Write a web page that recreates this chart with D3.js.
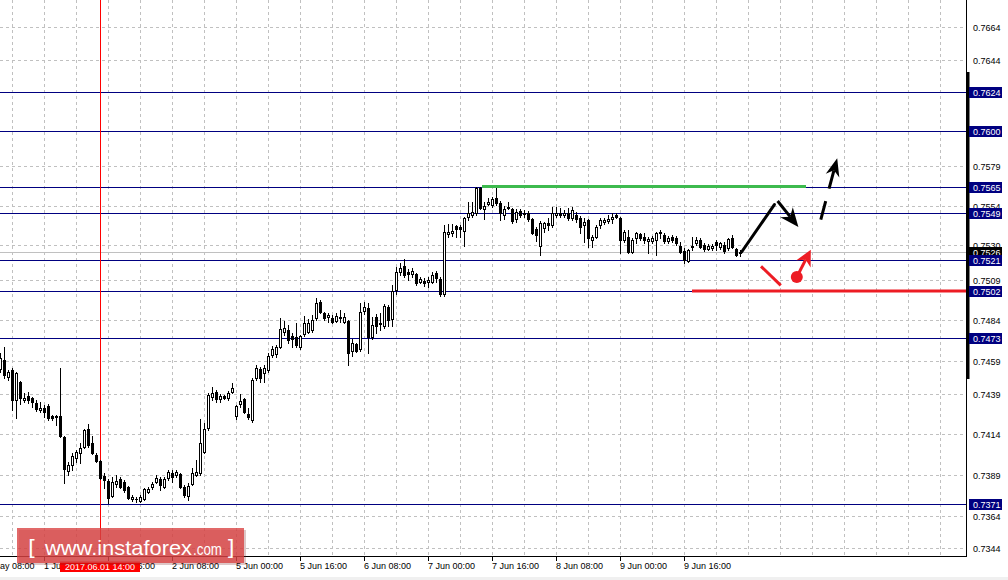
<!DOCTYPE html>
<html><head><meta charset="utf-8">
<script src="https://cdn.jsdelivr.net/npm/d3@7"></script>
<style>html,body{margin:0;padding:0;background:#fff;overflow:hidden}</style>
</head><body><svg id="c" width="1008" height="580"></svg>
<script>
// ---- data (H1 candles, prices) ----
const openP = [.74542,.74598,.74493,.74536,.74352,.74463,.74352,.74376,.74364,.74334,.74291,.74303,.74315,.74254,.74254,.74254,.74125,.73916,.73953,.73996,.74027,.74063,.74174,.74088,.74014,.73978,.73885,.73855,.73762,.73836,.73867,.73849,.73818,.73744,.73744,.73732,.73744,.73787,.73818,.73849,.73867,.73818,.73873,.73904,.73892,.73898,.73818,.73762,.73836,.73892,.73904,.74033,.74180,.74370,.74401,.74358,.74376,.74364,.74401,.74254,.74327,.74358,.74266,.74229,.74487,.74542,.74518,.74536,.74628,.74635,.74677,.74770,.74782,.74745,.74739,.74677,.74757,.74770,.74782,.74856,.74954,.74886,.74862,.74856,.74837,.74856,.74831,.74837,.74653,.74696,.74665,.74898,.74917,.74739,.74862,.74819,.74806,.74923,.74849,.75027,.75138,.75175,.75138,.75126,.75126,.75077,.75083,.75077,.75077,.75132,.75095,.75003,.75371,.75377,.75420,.75414,.75390,.75476,.75488,.75500,.75654,.75525,.75555,.75549,.75592,.75562,.75488,.75531,.75525,.75463,.75513,.75494,.75500,.75463,.75402,.75298,.75408,.75439,.75427,.75488,.75500,.75488,.75500,.75470,.75488,.75470,.75427,.75457,.75334,.75353,.75427,.75445,.75451,.75463,.75488,.75470,.75334,.75353,.75261,.75347,.75371,.75353,.75328,.75328,.75334,.75384,.75365,.75328,.75353,.75347,.75298,.75267,.75206,.75292,.75316,.75334,.75304,.75279,.75285,.75322,.75292,.75304,.75285,.75347,.75279,.75255];
const highP = [.74641,.74677,.74536,.74549,.74524,.74469,.74395,.74401,.74370,.74352,.74340,.74321,.74327,.74260,.74260,.74549,.74131,.73972,.74027,.74045,.74088,.74174,.74205,.74131,.74027,.73984,.73904,.73867,.73879,.73892,.73879,.73861,.73824,.73768,.73756,.73768,.73812,.73818,.73849,.73892,.73879,.73879,.73922,.73922,.73922,.73904,.73830,.73843,.73935,.73984,.74236,.74211,.74395,.74432,.74413,.74389,.74382,.74407,.74456,.74321,.74389,.74364,.74303,.74487,.74567,.74555,.74567,.74641,.74684,.74690,.74856,.74837,.74813,.74763,.74825,.74751,.74868,.74849,.74874,.74978,.74966,.74892,.74886,.74874,.74886,.74905,.74886,.74843,.74727,.74702,.74948,.74954,.74948,.74862,.74880,.74886,.74941,.74935,.75058,.75169,.75193,.75218,.75156,.75163,.75132,.75107,.75101,.75107,.75138,.75144,.75107,.75427,.75433,.75433,.75427,.75427,.75476,.75568,.75568,.75660,.75660,.75568,.75592,.75598,.75660,.75574,.75543,.75568,.75531,.75525,.75525,.75519,.75513,.75470,.75414,.75451,.75445,.75470,.75537,.75537,.75531,.75519,.75531,.75537,.75507,.75482,.75470,.75463,.75365,.75427,.75470,.75470,.75488,.75500,.75500,.75476,.75396,.75396,.75347,.75384,.75377,.75377,.75353,.75359,.75384,.75396,.75377,.75359,.75365,.75359,.75322,.75285,.75279,.75353,.75353,.75347,.75316,.75310,.75310,.75334,.75322,.75322,.75347,.75365,.75285,.75273];
const lowP = [.74524,.74487,.74475,.74291,.74242,.74327,.74340,.74334,.74309,.74285,.74279,.74248,.74229,.74229,.74198,.74125,.73843,.73892,.73922,.73972,.73966,.74058,.74063,.74020,.73972,.73867,.73812,.73720,.73756,.73818,.73812,.73787,.73744,.73732,.73726,.73726,.73738,.73781,.73805,.73843,.73799,.73812,.73861,.73849,.73879,.73812,.73756,.73738,.73830,.73885,.73892,.74027,.74168,.74352,.74340,.74340,.74358,.74352,.74395,.74236,.74309,.74272,.74236,.74217,.74475,.74463,.74463,.74524,.74616,.74616,.74671,.74751,.74702,.74677,.74677,.74665,.74745,.74763,.74770,.74843,.74886,.74843,.74831,.74825,.74831,.74831,.74825,.74567,.74622,.74647,.74653,.74880,.74641,.74727,.74763,.74782,.74794,.74806,.74806,.75003,.75120,.75107,.75089,.75107,.75058,.75070,.75052,.75046,.75070,.75077,.74990,.74990,.75353,.75359,.75353,.75353,.75298,.75457,.75476,.75488,.75525,.75463,.75549,.75537,.75549,.75457,.75463,.75525,.75439,.75445,.75476,.75476,.75451,.75371,.75328,.75242,.75384,.75396,.75414,.75476,.75476,.75476,.75457,.75457,.75445,.75377,.75322,.75292,.75292,.75347,.75408,.75433,.75439,.75439,.75470,.75255,.75322,.75255,.75255,.75316,.75334,.75316,.75255,.75316,.75242,.75347,.75316,.75316,.75322,.75304,.75255,.75193,.75199,.75273,.75304,.75285,.75267,.75273,.75273,.75273,.75279,.75255,.75273,.75285,.75236,.75236];
const closeP = [.74610,.74505,.74524,.74352,.74518,.74364,.74364,.74352,.74340,.74297,.74303,.74279,.74242,.74242,.74248,.74131,.73929,.73953,.74008,.74033,.74058,.74168,.74076,.74027,.73978,.73873,.73861,.73750,.73849,.73855,.73818,.73799,.73750,.73756,.73741,.73756,.73805,.73805,.73836,.73873,.73830,.73867,.73910,.73879,.73910,.73818,.73768,.73824,.73904,.73910,.74088,.74174,.74383,.74395,.74358,.74376,.74364,.74395,.74426,.74315,.74346,.74279,.74248,.74475,.74549,.74487,.74549,.74622,.74665,.74677,.74788,.74794,.74720,.74726,.74690,.74745,.74825,.74825,.74843,.74947,.74892,.74856,.74874,.74831,.74868,.74862,.74862,.74641,.74702,.74653,.74892,.74923,.74739,.74813,.74806,.74825,.74929,.74843,.75021,.75138,.75163,.75120,.75126,.75144,.75070,.75095,.75070,.75089,.75120,.75101,.75003,.75384,.75384,.75390,.75402,.75399,.75470,.75500,.75507,.75654,.75531,.75543,.75568,.75586,.75562,.75500,.75525,.75537,.75451,.75507,.75488,.75500,.75463,.75377,.75365,.75439,.75439,.75427,.75500,.75500,.75488,.75500,.75470,.75519,.75463,.75414,.75445,.75347,.75353,.75414,.75457,.75457,.75463,.75476,.75476,.75334,.75384,.75261,.75334,.75377,.75347,.75334,.75341,.75347,.75377,.75374,.75328,.75347,.75334,.75316,.75261,.75212,.75273,.75298,.75334,.75292,.75279,.75298,.75298,.75304,.75316,.75267,.75341,.75292,.75242,.75262];

const priceTicks = [0.7664,0.7644,0.7624,0.7600,0.7579,0.7554,0.7530,0.7509,0.7484,0.7459,0.7439,0.7414,0.7389,0.7364,0.7344];
const timeLabels = ["31 May 08:00","1 Jun 00:00","1 Jun 16:00","2 Jun 08:00","5 Jun 00:00","5 Jun 16:00","6 Jun 08:00","7 Jun 00:00","7 Jun 16:00","8 Jun 08:00","9 Jun 00:00","9 Jun 16:00"];
const timeLabelBars = [-5,11,27,43,59,75,91,107,123,139,155,171];
const levelLines = [0.7624,0.7600,0.75659,0.75498,0.7521,0.7502,0.7473,0.7371];
const bidPrice = 0.7526;
const markerBar = 25, markerLabel = "2017.06.01 14:00";
const resistance = {price:0.75659, from:120.5, to:201.5};
const support = {price:0.7502, from:173, to:241.5};
// analyst annotations in (bar, price)
const blackPath = [[185.4,0.75260],[193.6,0.75551]];
const blackArrow = [[194.4,0.75573],[199.6,0.75413]];
const dashedArrow = [[205.2,0.75459],[209.3,0.75836]];
const redStroke = [[190.25,0.75172],[195.2,0.75055]];
const redDot = [199.2,0.75106];
const redArrowTip = [202.7,0.75274];

// ---- scales ----
const svg = d3.select("#c");
const plotR = 966, plotB = 556;
const x = d3.scaleLinear().domain([0,1]).range([0,4]);
const y = d3.scaleLinear().domain([0.7344,0.7664]).range([548.3,27.3]);
const px = v => Math.round(x(v));
const py = v => Math.round(y(v));
const fmt = v => (Math.floor(v*10000+1e-6)/10000).toFixed(4);

svg.append("rect").attr("width",1008).attr("height",580).attr("fill","#fff");
const plot = svg.append("g");
svg.append("clipPath").attr("id","pc").append("rect").attr("x",0).attr("y",0).attr("width",plotR).attr("height",plotB);
plot.attr("clip-path","url(#pc)");

// grid
const gridBars = d3.range(3,242,8);
plot.selectAll("line.gv").data(gridBars).join("line")
  .attr("x1",d=>px(d)+0.5).attr("x2",d=>px(d)+0.5).attr("y1",0).attr("y2",plotB)
  .attr("stroke","#c0c0c0").attr("stroke-dasharray","3,3");
plot.selectAll("line.gh").data(priceTicks).join("line")
  .attr("x1",0).attr("x2",plotR).attr("y1",d=>py(d)+0.5).attr("y2",d=>py(d)+0.5)
  .attr("stroke","#c0c0c0").attr("stroke-dasharray","3,3");

// bid line
plot.append("line").attr("x1",0).attr("x2",plotR).attr("y1",py(bidPrice)+0.5).attr("y2",py(bidPrice)+0.5).attr("stroke","#c0c0c0");
// level lines
plot.selectAll("line.lv").data(levelLines).join("line")
  .attr("x1",0).attr("x2",plotR).attr("y1",d=>py(d)+0.5).attr("y2",d=>py(d)+0.5)
  .attr("stroke","#000080");
// red vertical marker
plot.append("line").attr("x1",px(markerBar)+0.5).attr("x2",px(markerBar)+0.5).attr("y1",0).attr("y2",plotB).attr("stroke","#ff0000");

// candles
const bars = d3.range(openP.length).map(i=>({i,o:openP[i],h:highP[i],l:lowP[i],c:closeP[i]}));
const cg = plot.append("g");
bars.forEach(b=>{
  const cx = px(b.i);
  const yh = py(b.h), yl = py(b.l);
  cg.append("rect").attr("x",cx).attr("y",yh).attr("width",1).attr("height",Math.max(1,yl-yh+1)).attr("fill","#000");
  const top = py(Math.max(b.o,b.c)), bot = py(Math.min(b.o,b.c));
  cg.append("rect").attr("x",cx-1).attr("y",top).attr("width",3).attr("height",bot-top+1).attr("fill","#000");
  if (b.c > b.o && bot-top >= 2) {
    cg.append("rect").attr("x",cx).attr("y",top+1).attr("width",1).attr("height",bot-top-1).attr("fill","#fff");
  }
});

// resistance (green) & support (red)
plot.append("line").attr("x1",x(resistance.from)).attr("x2",x(resistance.to))
  .attr("y1",y(resistance.price)-0.5).attr("y2",y(resistance.price)-0.5).attr("stroke","#3dba4e").attr("stroke-width",3);
plot.append("line").attr("x1",x(support.from)).attr("x2",x(support.to))
  .attr("y1",y(support.price)).attr("y2",y(support.price)).attr("stroke","#ed1c24").attr("stroke-width",3);

// annotation helpers
function head(g,x1,y1,x2,y2,len,hw,color){
  const dx=x2-x1, dy=y2-y1, L=Math.hypot(dx,dy), ux=dx/L, uy=dy/L, nx=-uy, ny=ux;
  const bx=x2-ux*len, by=y2-uy*len, mx=x2-ux*len*0.7, my=y2-uy*len*0.7;
  g.append("path").attr("d",`M${x2},${y2}L${bx+nx*hw},${by+ny*hw}L${mx},${my}L${bx-nx*hw},${by-ny*hw}Z`).attr("fill",color);
  return [mx,my];
}
const ann = plot.append("g");
const P = d => [x(d[0]), y(d[1])];
let a = P(blackPath[0]), b2 = P(blackPath[1]);
ann.append("line").attr("x1",a[0]).attr("y1",a[1]).attr("x2",b2[0]).attr("y2",b2[1]).attr("stroke","#000").attr("stroke-width",3).attr("stroke-linecap","round");
a = P(blackArrow[0]); b2 = P(blackArrow[1]);
let m = head(ann,a[0],a[1],b2[0],b2[1],19,8,"#000");
ann.append("line").attr("x1",a[0]).attr("y1",a[1]).attr("x2",m[0]).attr("y2",m[1]).attr("stroke","#000").attr("stroke-width",3);
a = P(dashedArrow[0]); b2 = P(dashedArrow[1]);
m = head(ann,a[0],a[1],b2[0],b2[1],18,7,"#000");
ann.append("line").attr("x1",a[0]).attr("y1",a[1]).attr("x2",m[0]).attr("y2",m[1]).attr("stroke","#000").attr("stroke-width",3).attr("stroke-dasharray","19,13");
a = P(redStroke[0]); b2 = P(redStroke[1]);
ann.append("line").attr("x1",a[0]).attr("y1",a[1]).attr("x2",b2[0]).attr("y2",b2[1]).attr("stroke","#ed1c24").attr("stroke-width",3);
a = P(redDot); b2 = P(redArrowTip);
m = head(ann,a[0],a[1],b2[0],b2[1],16,8,"#ed1c24");
ann.append("line").attr("x1",a[0]).attr("y1",a[1]).attr("x2",m[0]).attr("y2",m[1]).attr("stroke","#ed1c24").attr("stroke-width",3);
ann.append("circle").attr("cx",a[0]).attr("cy",a[1]).attr("r",6).attr("fill","#ed1c24");

// axes frame
svg.append("line").attr("x1",plotR+0.5).attr("x2",plotR+0.5).attr("y1",0).attr("y2",plotB+1).attr("stroke","#000");
svg.append("line").attr("x1",0).attr("x2",plotR+1).attr("y1",plotB+0.5).attr("y2",plotB+0.5).attr("stroke","#000");
svg.append("rect").attr("x",966).attr("y",72).attr("width",3.5).attr("height",307).attr("fill","#000");

const font = "'Liberation Sans', Arial, sans-serif";
// price labels
svg.selectAll("text.pt").data(priceTicks).join("text")
  .attr("x",973).attr("y",d=>py(d)+0.5).attr("dominant-baseline","central")
  .attr("font-family",font).attr("font-size",9).attr("fill","#000").text(d=>fmt(d));
function tag(v,bg){
  const yy = py(v)+0.5;
  svg.append("rect").attr("x",969).attr("y",yy-5.5).attr("width",33).attr("height",11).attr("fill",bg);
  svg.append("text").attr("x",973).attr("y",yy).attr("dominant-baseline","central")
    .attr("font-family",font).attr("font-size",9).attr("fill","#fff").text(fmt(v));
}
tag(bidPrice,"#000");
levelLines.forEach(v=>tag(v,"#000080"));

// time labels
svg.selectAll("line.tt").data(timeLabelBars).join("line")
  .attr("x1",d=>px(d)+0.5).attr("x2",d=>px(d)+0.5).attr("y1",plotB+1).attr("y2",plotB+5).attr("stroke","#000");
svg.selectAll("text.tl").data(timeLabels).join("text")
  .attr("x",(d,i)=>px(timeLabelBars[i])).attr("y",566).attr("dominant-baseline","central")
  .attr("font-family",font).attr("font-size",9).attr("fill","#000").text(d=>d);
// marker time tag
const mx0 = px(markerBar);
svg.append("rect").attr("x",mx0-40).attr("y",561.5).attr("width",80).attr("height",10.5).attr("fill","#ff0000");
svg.append("text").attr("x",mx0).attr("y",567).attr("text-anchor","middle").attr("dominant-baseline","central")
  .attr("font-family",font).attr("font-size",9).attr("fill","#fff").text(markerLabel);

// bottom strip
svg.append("rect").attr("x",0).attr("y",577).attr("width",1008).attr("height",3).attr("fill","#f0f0f0");

// logo
const lg = svg.append("g");
lg.append("rect").attr("x",19).attr("y",530).attr("width",227).attr("height",35).attr("fill","rgba(120,30,30,0.25)");
lg.append("rect").attr("x",17).attr("y",528).attr("width",227).attr("height",35).attr("fill","rgba(218,68,68,0.8)");
lg.append("text").attr("x",28).attr("y",555).attr("font-family","'DejaVu Sans', sans-serif").attr("font-size",22).attr("fill","#fff").text("[");
lg.append("text").attr("x",45).attr("y",554.5).attr("font-family","'Liberation Sans', Arial, sans-serif").attr("font-size",21).attr("fill","#fff")
  .attr("textLength",147).attr("lengthAdjust","spacingAndGlyphs").text("www.instaforex");
lg.append("text").attr("x",193).attr("y",554.5).attr("font-family","'Liberation Sans', Arial, sans-serif").attr("font-size",16).attr("fill","#fff")
  .attr("textLength",29).attr("lengthAdjust","spacingAndGlyphs").text(".com");
lg.append("text").attr("x",226).attr("y",555).attr("font-family","'DejaVu Sans', sans-serif").attr("font-size",22).attr("fill","#fff").text("]");
</script></body></html>
